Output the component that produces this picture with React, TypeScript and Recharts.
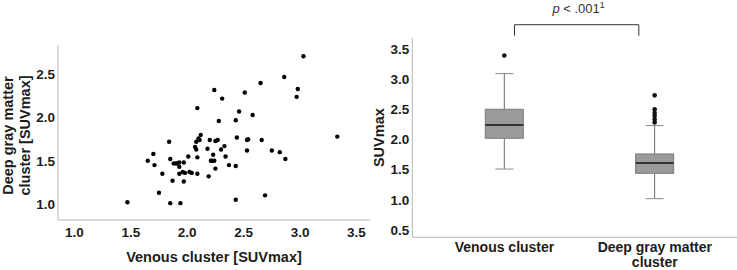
import React from "react";
import {
  ScatterChart,
  Scatter,
  ComposedChart,
  Bar,
  XAxis,
  YAxis,
  ReferenceLine,
} from "recharts";

// scatter: venous cluster vs deep gray matter cluster (SUVmax)
const venousSuv = [
  1.47, 1.65, 1.7, 1.71, 1.75, 1.78, 1.84, 1.85, 1.87, 1.85, 1.88, 1.9, 1.91,
  1.93, 1.93, 1.93, 1.94, 1.97, 1.96, 1.98, 1.97, 2.01, 2.02, 2.04, 2.07, 2.08,
  2.08, 2.09, 2.09, 2.09, 2.1, 2.11, 2.12, 2.18, 2.19, 2.2, 2.21, 2.22, 2.24,
  2.23, 2.24, 2.25, 2.25, 2.27, 2.28, 2.3, 2.31, 2.33, 2.34, 2.37, 2.43, 2.43,
  2.43, 2.44, 2.46, 2.51, 2.53, 2.54, 2.53, 2.58, 2.65, 2.66, 2.69, 2.75, 2.82,
  2.86, 2.87, 2.97, 2.98, 3.03, 3.33,
];
const deepGraySuv = [
  1.02, 1.5, 1.58, 1.45, 1.13, 1.35, 1.72, 1.52, 1.27, 1.01, 1.47, 1.47, 1.47,
  1.48, 1.43, 1.35, 1.01, 1.48, 1.37, 1.36, 1.26, 1.55, 1.37, 1.36, 1.66, 1.63,
  1.72, 1.35, 2.11, 1.54, 1.76, 1.74, 1.8, 1.64, 1.32, 1.74, 1.5, 1.5, 1.5,
  1.57, 2.32, 1.73, 1.41, 1.74, 1.96, 1.63, 2.22, 1.67, 1.55, 1.45, 1.97, 1.44,
  1.05, 1.77, 2.07, 2.29, 1.74, 1.75, 1.62, 2.03, 2.4, 1.74, 1.1, 1.62, 1.6,
  2.47, 1.52, 2.24, 2.33, 2.71, 1.78,
];
const scatterXTicks = [1.0, 1.5, 2.0, 2.5, 3.0, 3.5];
const scatterYTicks = [1.0, 1.5, 2.0, 2.5];

// box plot
const boxCategories = ["Venous cluster", "Deep gray matter cluster"];
const boxLow = [1.51, 1.02];
const boxQ1 = [2.02, 1.44];
const boxMedian = [2.24, 1.61];
const boxQ3 = [2.5, 1.76];
const boxHigh = [3.09, 2.23];
const boxOutliers = [[3.39], [2.28, 2.33, 2.39, 2.44, 2.5, 2.73]];
const boxYTicks = [0.5, 1.0, 1.5, 2.0, 2.5, 3.0, 3.5];
const categoryLines: Record<string, string[]> = {
  "Venous cluster": ["Venous cluster"],
  "Deep gray matter cluster": ["Deep gray matter", "cluster"],
};

const scatterData = venousSuv.map((x, i) => ({ x, y: deepGraySuv[i] }));
const boxData = boxCategories.map((name, i) => ({
  name,
  low: boxLow[i],
  q1: boxQ1[i],
  median: boxMedian[i],
  q3: boxQ3[i],
  high: boxHigh[i],
  outliers: boxOutliers[i],
}));

const FONT = "'Liberation Sans', Arial, sans-serif";
const TEXT = "#1c1c1c";
const AXIS = "#b5b5b5";
const tickStyle = { fontFamily: FONT, fontSize: 13.5, fontWeight: 700, fill: TEXT };
const fmt = (v: number) => v.toFixed(1);

const Dot = (p: any) => <circle cx={p.cx} cy={p.cy} r={2.2} fill="#000" />;

const BoxShape = (props: any) => {
  const { x, y, width, height, payload } = props;
  const top = Math.min(y, y + height);
  const unit = Math.abs(height) / (payload.high - payload.low);
  const py = (v: number) => top + (payload.high - v) * unit;
  const cx = x + width / 2;
  return (
    <g>
      <line x1={cx} x2={cx} y1={py(payload.high)} y2={py(payload.q3)} stroke="#6a6a6a" />
      <line x1={cx} x2={cx} y1={py(payload.q1)} y2={py(payload.low)} stroke="#6a6a6a" />
      <line x1={cx - 9} x2={cx + 9} y1={py(payload.high)} y2={py(payload.high)} stroke="#8a8a8a" />
      <line x1={cx - 9} x2={cx + 9} y1={py(payload.low)} y2={py(payload.low)} stroke="#8a8a8a" />
      <rect
        x={x}
        y={py(payload.q3)}
        width={width}
        height={py(payload.q1) - py(payload.q3)}
        fill="#9b9b9b"
        stroke="#7a7a7a"
      />
      <line
        x1={x}
        x2={x + width}
        y1={py(payload.median)}
        y2={py(payload.median)}
        stroke="#333"
        strokeWidth={2}
      />
      {payload.outliers.map((v: number, i: number) => (
        <circle key={i} cx={cx} cy={py(v)} r={2.3} fill="#111" />
      ))}
    </g>
  );
};

const CategoryTick = (p: any) => {
  const lines = categoryLines[p.payload.value] || [p.payload.value];
  return (
    <text x={p.x} y={p.y} textAnchor="middle" {...tickStyle} fontSize={14}>
      {lines.map((l, i) => (
        <tspan key={i} x={p.x} dy={i === 0 ? "0.71em" : 14.5}>
          {l}
        </tspan>
      ))}
    </text>
  );
};

const Bracket = (p: any) => {
  const { x1, y1, x2 } = p;
  const l = x1 + 10;
  const r = x2 - 16;
  return (
    <g>
      <path d={`M${l},${y1 + 11}V${y1}H${r}V${y1 + 11}`} fill="none" stroke="#333" />
      <text x={(l + r) / 2 + 2} y={y1 - 12} textAnchor="middle" fontFamily={FONT} fontSize={13} fill="#333">
        <tspan fontStyle="italic">p</tspan>
        <tspan> &lt; .001</tspan>
        <tspan dy={-5} fontSize={9}>1</tspan>
      </text>
    </g>
  );
};

export default function App() {
  return (
    <div style={{ position: "absolute", left: 0, top: 0, width: 737, height: 270, background: "#fff" }}>
      <div style={{ position: "absolute", left: 0, top: 0 }}>
        <ScatterChart width={380} height={270} margin={{ top: 45, right: 10, bottom: 20, left: 0 }}>
          <XAxis
            type="number"
            dataKey="x"
            domain={[0.855, 3.62]}
            allowDataOverflow
            ticks={scatterXTicks}
            tickFormatter={fmt}
            tick={tickStyle}
            tickLine={false}
            tickSize={0}
            tickMargin={7}
            height={30}
            stroke={AXIS}
            label={{
              content: (lp: any) => {
                const vb = lp.viewBox;
                return (
                  <text x={vb.x + vb.width / 2} y={vb.y + 42} textAnchor="middle" fontFamily={FONT} fontSize={14.5} fontWeight={700} fill={TEXT}>
                    Venous cluster [SUVmax]
                  </text>
                );
              },
            }}
          />
          <YAxis
            type="number"
            dataKey="y"
            domain={[0.815, 2.84]}
            allowDataOverflow
            ticks={scatterYTicks}
            tickFormatter={fmt}
            tick={tickStyle}
            tickLine={false}
            tickSize={0}
            tickMargin={3}
            width={58}
            stroke={AXIS}
            label={{
              content: (lp: any) => {
                const vb = lp.viewBox;
                const cy = vb.y + vb.height / 2 + 3;
                return (
                  <g fontFamily={FONT} fontSize={14.5} fontWeight={700} fill={TEXT}>
                    <text x={8} y={cy} transform={`rotate(-90, 8, ${cy})`} textAnchor="middle" dominantBaseline="central">
                      Deep gray matter
                    </text>
                    <text x={25} y={cy} transform={`rotate(-90, 25, ${cy})`} textAnchor="middle" dominantBaseline="central">
                      cluster [SUVmax]
                    </text>
                  </g>
                );
              },
            }}
          />
          <Scatter data={scatterData} shape={Dot} isAnimationActive={false} />
        </ScatterChart>
      </div>
      <div style={{ position: "absolute", left: 370, top: 0 }}>
        <ComposedChart width={367} height={270} data={boxData} margin={{ top: 38, right: 0, bottom: 0, left: 0 }}>
          <XAxis
            dataKey="name"
            type="category"
            padding={{ left: 17, right: 7 }}
            tick={<CategoryTick />}
            tickLine={false}
            tickSize={0}
            tickMargin={5}
            height={32.7}
            stroke={AXIS}
            interval={0}
          />
          <YAxis
            type="number"
            domain={[0.38, 3.68]}
            allowDataOverflow
            ticks={boxYTicks}
            tickFormatter={fmt}
            tick={tickStyle}
            tickLine={false}
            tickSize={0}
            tickMargin={3}
            width={42.3}
            stroke={AXIS}
            label={{
              content: (lp: any) => {
                const vb = lp.viewBox;
                const cy = vb.y + vb.height / 2;
                return (
                  <text x={9} y={cy} transform={`rotate(-90, 9, ${cy})`} textAnchor="middle" dominantBaseline="central" fontFamily={FONT} fontSize={14.5} fontWeight={700} fill={TEXT}>
                    SUVmax
                  </text>
                );
              },
            }}
          />
          <Bar
            dataKey={(d: any) => [d.low, d.high]}
            barSize={38}
            shape={BoxShape}
            isAnimationActive={false}
          />
          <ReferenceLine
            segment={[
              { x: boxCategories[0], y: 3.9 },
              { x: boxCategories[1], y: 3.9 },
            ]}
            ifOverflow="visible"
            shape={Bracket}
          />
        </ComposedChart>
      </div>
    </div>
  );
}
